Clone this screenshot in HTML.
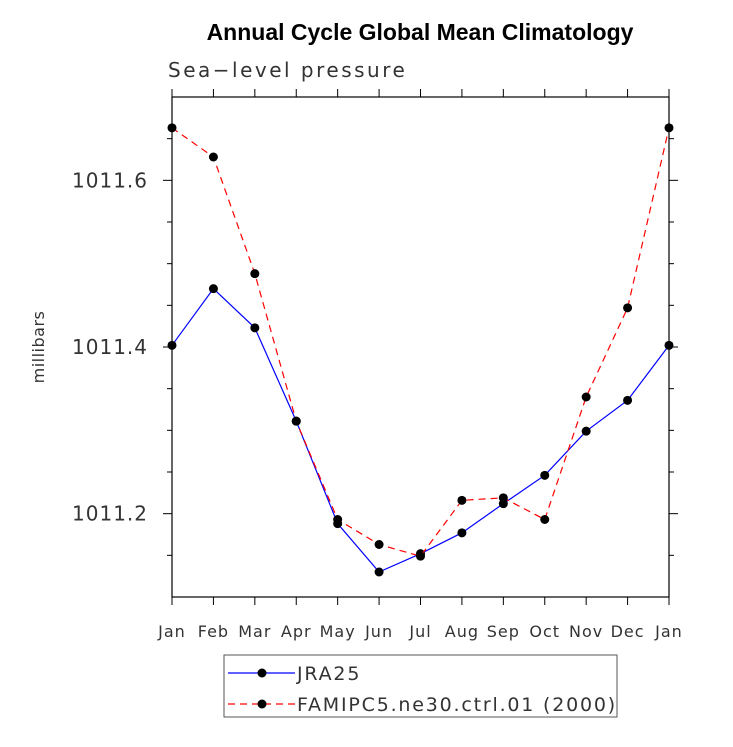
<!DOCTYPE html>
<html><head><meta charset="utf-8"><style>
body{margin:0;background:#fff}
svg text{font-family:"DejaVu Sans","Liberation Sans",sans-serif}
</style></head><body>
<svg id="chart" width="733" height="742" xmlns="http://www.w3.org/2000/svg">
<rect width="733" height="742" fill="#fff"/>
<text x="420" y="40" text-anchor="middle" font-size="23" font-weight="bold" style="font-family:'Liberation Sans',sans-serif">Annual Cycle Global Mean Climatology</text>
<text x="168" y="77" font-size="20" fill="#333" letter-spacing="2.5">Sea−level pressure</text>
<text transform="translate(44,347) rotate(-90)" text-anchor="middle" font-size="16" fill="#333" letter-spacing="0.5">millibars</text>
<g id="axes"></g>
<g id="series"></g>
<g id="legend">
<rect x="224" y="655" width="393" height="62" fill="#fff" stroke="#555" stroke-width="1"/>
<line x1="228" y1="673" x2="295" y2="673" stroke="#0000ff" stroke-width="1.2"/>
<circle cx="262" cy="673" r="4.5" fill="#000"/>
<text x="297" y="680" font-size="19" fill="#333" letter-spacing="1.8">JRA25</text>
<line x1="228" y1="704" x2="295" y2="704" stroke="#ff0000" stroke-width="1.2" stroke-dasharray="7,5"/>
<circle cx="262" cy="704" r="4.5" fill="#000"/>
<text x="297" y="711" font-size="19" fill="#333" letter-spacing="1.8">FAMIPC5.ne30.ctrl.01 (2000)</text>
</g>
</svg>
<script>
const months = ["Jan","Feb","Mar","Apr","May","Jun","Jul","Aug","Sep","Oct","Nov","Dec","Jan"];
const jra25 = [1011.402,1011.470,1011.423,1011.311,1011.188,1011.130,1011.152,1011.177,1011.212,1011.246,1011.299,1011.336,1011.402];
const famipc5 = [1011.663,1011.628,1011.488,1011.311,1011.193,1011.163,1011.149,1011.216,1011.219,1011.193,1011.340,1011.447,1011.663];
const yTicks = [1011.2,1011.4,1011.6];
const yTickLabels = ["1011.2","1011.4","1011.6"];
const yMin = 1011.1, yMax = 1011.7;
const L=172,R=669,T=97,B=597;
const NS="http://www.w3.org/2000/svg";
function xs(i){return L+(R-L)*i/(months.length-1);}
function ys(v){return B-(v-yMin)/(yMax-yMin)*(B-T);}
function mk(tag,attrs,parent){const e=document.createElementNS(NS,tag);for(const k in attrs)e.setAttribute(k,attrs[k]);parent.appendChild(e);return e;}
const ax=document.getElementById('axes');
const frame=mk('rect',{x:L,y:T,width:R-L,height:B-T,fill:'none',stroke:'#000','stroke-width':1.2},ax);


for(let i=0;i<months.length;i++){
  const x=xs(i);
  mk('line',{x1:x,y1:B,x2:x,y2:B+8,stroke:'#000'},ax);
  mk('line',{x1:x,y1:T,x2:x,y2:T-8,stroke:'#000'},ax);
  const t=mk('text',{x:x,y:B+40,'text-anchor':'middle','font-size':16,fill:'#333','letter-spacing':1},ax);
  t.textContent=months[i];
  
  
}
for(let v=yMin+0.05;v<yMax-0.001;v+=0.05){
  const y=ys(v);
  const major=yTicks.some(t=>Math.abs(t-v)<1e-6);
  const len=major?9:5;
  mk('line',{x1:L,y1:y,x2:L-len,y2:y,stroke:'#000'},ax);
  mk('line',{x1:R,y1:y,x2:R+len,y2:y,stroke:'#000'},ax);
}
yTicks.forEach((v,i)=>{
  const t=mk('text',{x:L-24,y:ys(v)+7,'text-anchor':'end','font-size':20,fill:'#333','letter-spacing':1},ax);
  t.textContent=yTickLabels[i];
  
  
});
const sg=document.getElementById('series');
function draw(vals,color,dash,name){
  const pts=vals.map((v,i)=>xs(i)+','+ys(v)).join(' ');
  const pl=mk('polyline',{points:pts,fill:'none',stroke:color,'stroke-width':1.2,'stroke-dasharray':dash},sg);
  
  
  vals.forEach((v,i)=>{
    const c=mk('circle',{cx:xs(i),cy:ys(v),r:4.5,fill:'#000'},sg);
    
    
  });
}
draw(jra25,'#0000ff','none','jra25');
draw(famipc5,'#ff0000','7,5','famipc5');
</script>
</body></html>
